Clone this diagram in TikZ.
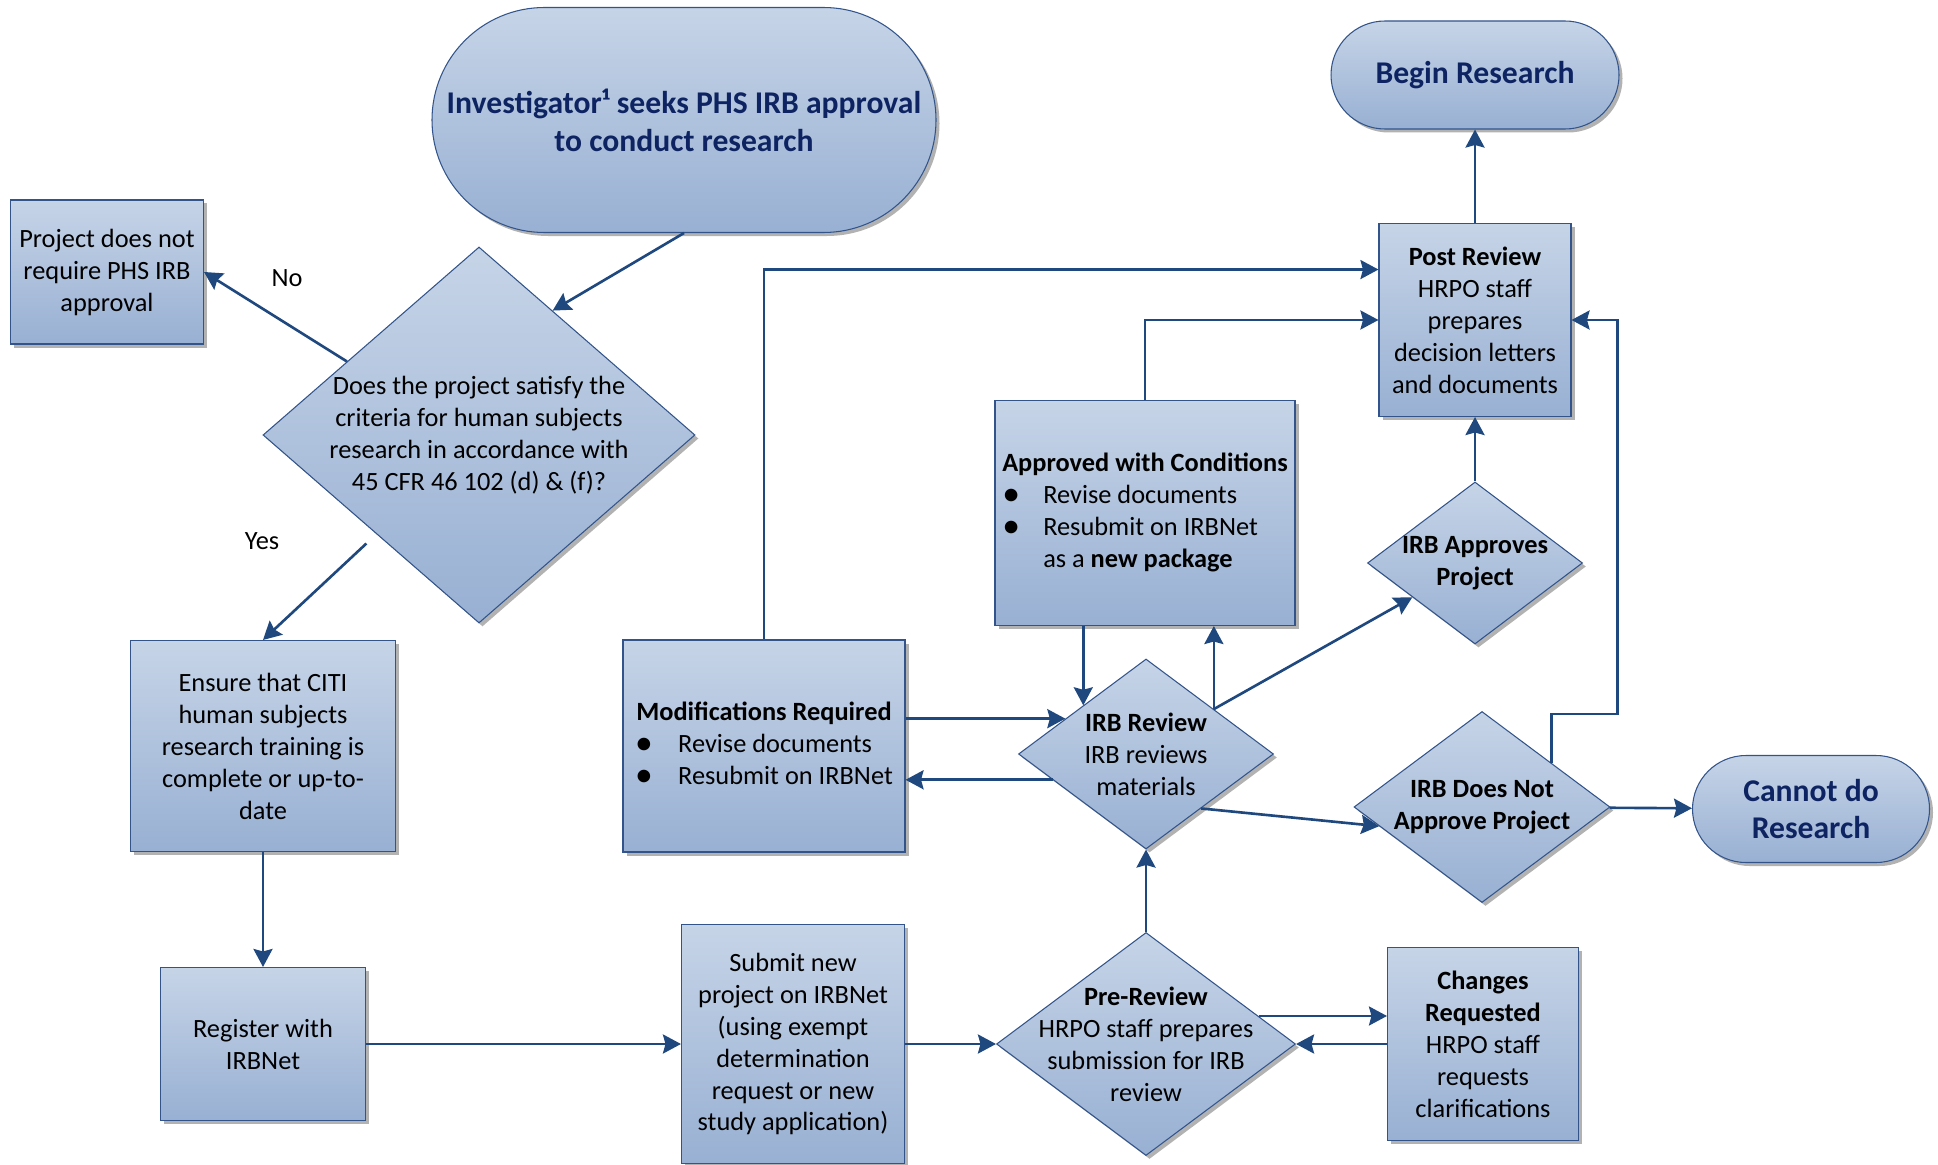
\documentclass[tikz,border=0pt]{standalone}
\usepackage{fontspec}
\setmainfont{Carlito}
\usetikzlibrary{shapes.geometric,shadows,arrows.meta,calc}
\definecolor{boxtop}{RGB}{198,212,231}
\definecolor{boxbot}{RGB}{152,176,211}
\definecolor{boxline}{RGB}{50,84,138}
\definecolor{linkblue}{RGB}{30,72,126}
\definecolor{termtext}{RGB}{14,36,98}
\newcommand{\blt}{\raisebox{-0.2ex}{\scalebox{1.35}{\textbullet}}}
\begin{document}
\begin{tikzpicture}[x=0.2mm, y=-0.2mm,
  every node/.style={font=\fontsize{15}{18.2}\selectfont},
  flowfill/.style={draw=boxline, line width=0.6pt, top color=boxtop, bottom color=boxbot,
    drop shadow={opacity=1, fill=black!30, shadow xshift=0.7mm, shadow yshift=-0.7mm}},
  box/.style={flowfill, rectangle, align=center, inner sep=0pt},
  terminal/.style={box, rounded corners=#1, text=termtext, font=\fontsize{18}{21.6}\selectfont\bfseries},
  decision/.style={flowfill, diamond, inner sep=0pt},
  dtext/.style={align=center},
  arr/.style={draw=linkblue, line width=1.5pt, -{Stealth[length=3.6mm, width=3.8mm, inset=0.5mm]}}]
\useasboundingbox (0,0) rectangle (1938,1165);

% left column
\node[terminal=22.5mm, minimum width=100.8mm, minimum height=45mm] (start) at (684,120)
  {Investigator¹ seeks PHS IRB approval\\to conduct research};
\node[box, minimum width=38.6mm, minimum height=28.8mm] (noreq) at (107,272)
  {Project does not\\require PHS IRB\\approval};
\node[decision, minimum width=86.4mm, minimum height=75.2mm,
  label={[dtext]center:{Does the project satisfy the\\criteria for human subjects\\research in accordance with\\45 CFR 46 102 (d) \& (f)?}}] (crit) at (479,435) {};
\node[box, minimum width=53mm, minimum height=42.2mm] (citi) at (263,746)
  {Ensure that CITI\\human subjects\\research training is\\complete or up-to-\\date};
\node[box, minimum width=41mm, minimum height=30.6mm] (reg) at (263,1044) {Register with\\IRBNet};
\node (nolbl) at (287,278) {No};
\node (yeslbl) at (262,541) {Yes};

% review loop
\node[box, minimum width=44.6mm, minimum height=47.8mm] (sub) at (793,1044)
  {Submit new\\project on IRBNet\\(using exempt\\determination\\request or new\\study application)};
\node[decision, minimum width=59.8mm, minimum height=44.6mm,
  label={[dtext]center:{\textbf{Pre-Review}\\HRPO staff prepares\\submission for IRB\\review}}] (pre) at (1146,1044) {};
\node[box, minimum width=38.2mm, minimum height=38.6mm] (chg) at (1483,1044)
  {\textbf{Changes}\\\textbf{Requested}\\HRPO staff\\requests\\clarifications};
\node[decision, minimum width=51mm, minimum height=38mm,
  label={[dtext]center:{\textbf{IRB Review}\\IRB reviews\\materials}}] (rev) at (1146,754) {};
\node[box, minimum width=56.4mm, minimum height=42.4mm] (mod) at (764,746)
  {\begin{tabular}{@{}l@{}l@{}}
   \multicolumn{2}{@{}c@{}}{\textbf{Modifications Required}}\\
   \makebox[8.6mm][l]{\blt} & Revise documents\\
   \blt & Resubmit on IRBNet
   \end{tabular}};
\node[box, minimum width=60mm, minimum height=45mm] (awc) at (1145,513)
  {\begin{tabular}{@{}l@{}l@{}}
   \multicolumn{2}{@{}c@{}}{\textbf{Approved with Conditions}}\\
   \makebox[8.2mm][l]{\blt} & Revise documents\\
   \blt & Resubmit on IRBNet\\
   & as a \textbf{new package}
   \end{tabular}};

% outcomes
\node[box, minimum width=38.4mm, minimum height=38.6mm] (post) at (1475,320)
  {\textbf{Post Review}\\HRPO staff\\prepares\\decision letters\\and documents};
\node[terminal=10.8mm, minimum width=57.6mm, minimum height=21.6mm] (begin) at (1475,75) {Begin Research};
\node[decision, minimum width=43mm, minimum height=32.4mm,
  label={[dtext]center:{\textbf{IRB Approves}\\\textbf{Project}}}] (appr) at (1475,563) {};
\node[decision, minimum width=51.2mm, minimum height=38.2mm,
  label={[dtext]center:{\textbf{IRB Does Not}\\\textbf{Approve Project}}}] (dna) at (1482,807) {};
\node[terminal=10.7mm, minimum width=47.4mm, minimum height=21.4mm] (cannot) at (1811,809) {Cannot do\\Research};

% points on the diamond edges
\coordinate (r1) at ($(rev.west)!0.37!(rev.north)$);
\coordinate (r2) at ($(rev.west)!0.27!(rev.south)$);
\coordinate (r3) at ($(rev.west)!0.51!(rev.north)$);
\coordinate (r4) at ($(rev.north)!0.53!(rev.east)$);
\coordinate (r5) at ($(rev.east)!0.57!(rev.south)$);
\coordinate (p1) at ($(pre.north)!0.75!(pre.east)$);

\draw[arr] (start.south) -- ($(crit.north)!0.34!(crit.east)$);
\draw[arr] ($(crit.north)!0.61!(crit.west)$) -- (noreq.east); % no
\draw[arr] ($(crit.west)!0.48!(crit.south)+(0,18)$) -- (citi.north); % yes
\draw[arr] (citi) -- (reg);
\draw[arr] (reg) -- (sub);
\draw[arr] (sub) -- (pre);
\draw[arr] (p1) -- (p1 -| chg.west);
\draw[arr] (chg) -- (pre);
\draw[arr] (pre) -- (rev);
\draw[arr] (r1 -| mod.east) -- (r1);
\draw[arr] (r2) -- (r2 -| mod.east);
\draw[arr] (r3 |- awc.south) -- (r3);
\draw[arr] (r4) -- (r4 |- awc.south);
\draw[arr] (r4) -- ($(appr.west)!0.42!(appr.south)$);
\draw[arr] (r5) -- ($(dna.west)!0.2!(dna.south)$);
\draw[arr] (dna) -- (cannot);
\draw[arr] ($(dna.north)!0.54!(dna.east)$) -- ++(0,-49) -- ++(66,0) |- (post.east);
\draw[arr] (appr) -- (post);
\draw[arr] (post) -- (begin);
\draw[arr] (awc.north) |- (post.west);
\draw[arr] (mod.north) |- ($(post.north west)!0.24!(post.south west)$);
\end{tikzpicture}
\end{document}
